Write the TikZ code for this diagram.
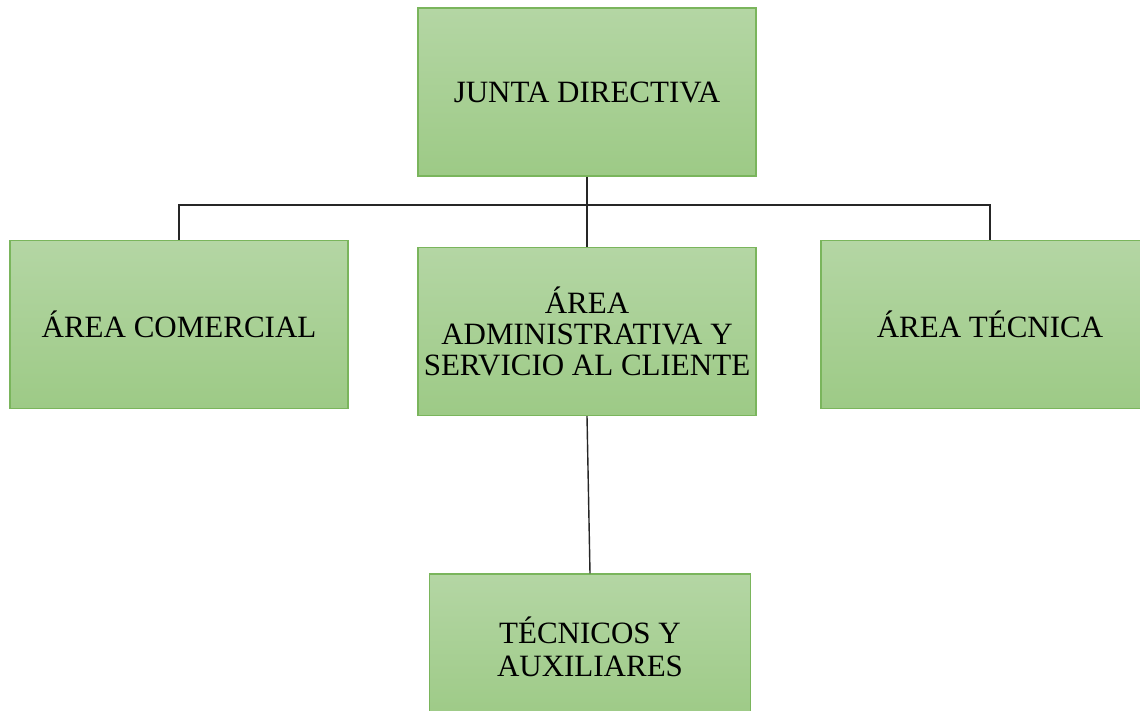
\documentclass[tikz,border=0pt]{standalone}
\usepackage{fontspec}
\setmainfont{Liberation Serif}
\begin{document}
\begin{tikzpicture}[x=1pt,y=-1pt,
  box/.style={draw=boxborder, line width=1.2pt, top color=boxtop, bottom color=boxbot,
    minimum width=338pt, minimum height=168pt, inner sep=0pt, align=center,
    font=\fontsize{31}{31}\selectfont},
  conn/.style={draw=black!85, line width=1.4pt}]
\definecolor{boxborder}{HTML}{7AB55C}
\definecolor{boxtop}{HTML}{B4D6A4}
\definecolor{boxbot}{HTML}{9DCA86}
\useasboundingbox (0,0) rectangle (1140,711);
\node[box] (top) at (587,92) {JUNTA DIRECTIVA};
\node[box] (left) at (179,324.5) {ÁREA COMERCIAL};
\node[box] (mid) at (587,331.5) {ÁREA\\ADMINISTRATIVA Y\\SERVICIO AL CLIENTE};
\node[box] (right) at (990,324.5) {ÁREA TÉCNICA};
\node[box, minimum width=321pt, minimum height=146pt, font=\fontsize{31}{33}\selectfont] (bot) at (590,647) {TÉCNICOS Y\\AUXILIARES};
\coordinate (bus) at (587,205);
\draw[conn] (top.south) -- (mid.north);
\draw[conn] (left.north) |- (bus) -| (right.north);
\draw[conn] (mid.south) -- (bot.north);
\end{tikzpicture}
\end{document}
